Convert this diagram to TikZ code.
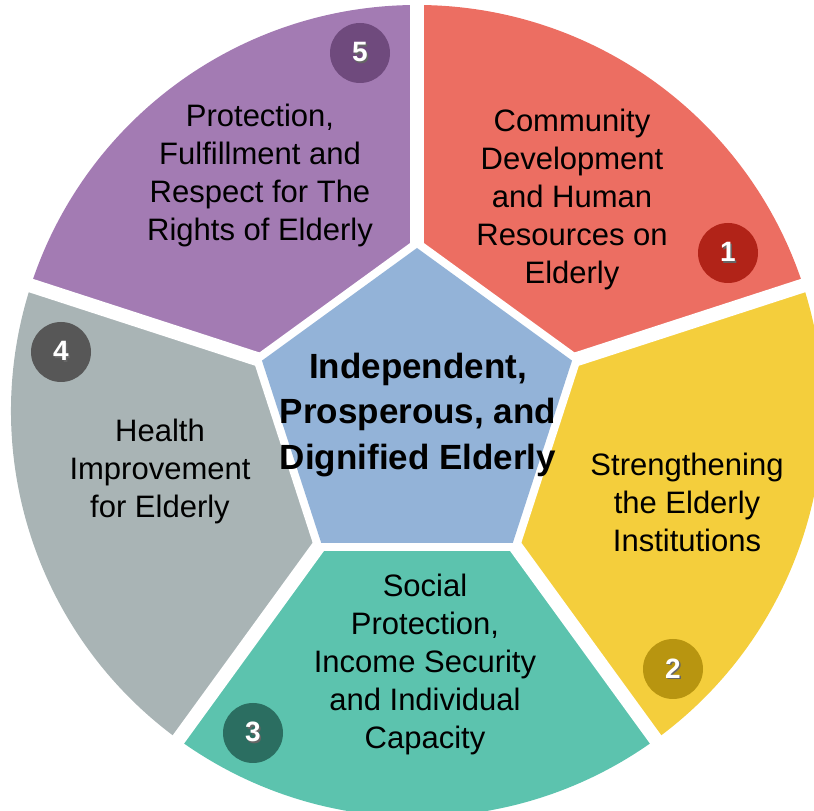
\documentclass[tikz,border=0pt]{standalone}
\usepackage{fontspec}
\setmainfont{Liberation Sans}
\definecolor{segred}{HTML}{EC6E62}
\definecolor{segyellow}{HTML}{F4CE3C}
\definecolor{segteal}{HTML}{5CC3AE}
\definecolor{seggray}{HTML}{A9B4B5}
\definecolor{segpurple}{HTML}{A37BB3}
\definecolor{centerblue}{HTML}{93B3D8}
\definecolor{numred}{HTML}{B12318}
\definecolor{numyellow}{HTML}{B89510}
\definecolor{numteal}{HTML}{2B6E61}
\definecolor{numgray}{HTML}{575757}
\definecolor{numpurple}{HTML}{6F4A7D}
\tikzset{
  segtext/.style={align=center, inner sep=0pt, font=\fontsize{31}{38}\selectfont, text=black},
  centertext/.style={align=center, inner sep=0pt, font=\bfseries\fontsize{35}{45.5}\selectfont, text=black},
  numcirc/.style={circle, minimum size=60pt, inner sep=0pt, text=white, font=\bfseries\fontsize{28}{32}\selectfont},
  gapline/.style={white, line width=14pt}
}
\newcommand{\numlab}[1]{\rlap{\kern1.3pt\raisebox{-1.3pt}{\color{black!60}#1}}#1}
\begin{document}
\begin{tikzpicture}[x=1pt,y=1pt]
\useasboundingbox (0,0) rectangle (814,811);
\clip (0,0) rectangle (814,811);
\begin{scope}[shift={(417,400)}]
  \def\R{406}
  \fill[segred]    (0,0) -- (18:\R)   arc[start angle=18,  end angle=90,  radius=\R] -- cycle;
  \fill[segyellow] (0,0) -- (-54:\R)  arc[start angle=-54, end angle=18,  radius=\R] -- cycle;
  \fill[segteal]   (0,0) -- (-126:\R) arc[start angle=-126,end angle=-54, radius=\R] -- cycle;
  \fill[seggray]   (0,0) -- (162:\R)  arc[start angle=162, end angle=234, radius=\R] -- cycle;
  \fill[segpurple] (0,0) -- (90:\R)   arc[start angle=90,  end angle=162, radius=\R] -- cycle;
  \foreach \a in {90,18,-54,-126,162} \draw[gapline] (0,0) -- (\a:440);
  \fill[white] (90:173) -- (18:173) -- (-54:173) -- (-126:173) -- (162:173) -- cycle;
  \fill[centerblue] (90:163) -- (18:163) -- (-54:163) -- (-126:163) -- (162:163) -- cycle;
\end{scope}
\node[centertext] (center) at (418,396.4) {Independent,\\Prosperous, and\\Dignified Elderly};
\node[segtext] (t1) at (572,611.7) {Community\\Development\\and Human\\Resources on\\Elderly};
\node[segtext] (t2) at (687,308.5) {Strengthening\\the Elderly\\Institutions};
\node[segtext] (t3) at (425,146.2) {Social\\Protection,\\Income Security\\and Individual\\Capacity};
\node[segtext] (t4) at (160,339.2) {Health\\Improvement\\for Elderly};
\node[segtext] (t5) at (260,635.2) {Protection,\\Fulfillment and\\Respect for The\\Rights of Elderly};
\node[numcirc, fill=numred]    (n1) at (728,558) {\numlab{1}};
\node[numcirc, fill=numyellow] (n2) at (673,142) {\numlab{2}};
\node[numcirc, fill=numteal]   (n3) at (253,78)  {\numlab{3}};
\node[numcirc, fill=numgray]   (n4) at (61,459)  {\numlab{4}};
\node[numcirc, fill=numpurple] (n5) at (360,758) {\numlab{5}};
\end{tikzpicture}
\end{document}
